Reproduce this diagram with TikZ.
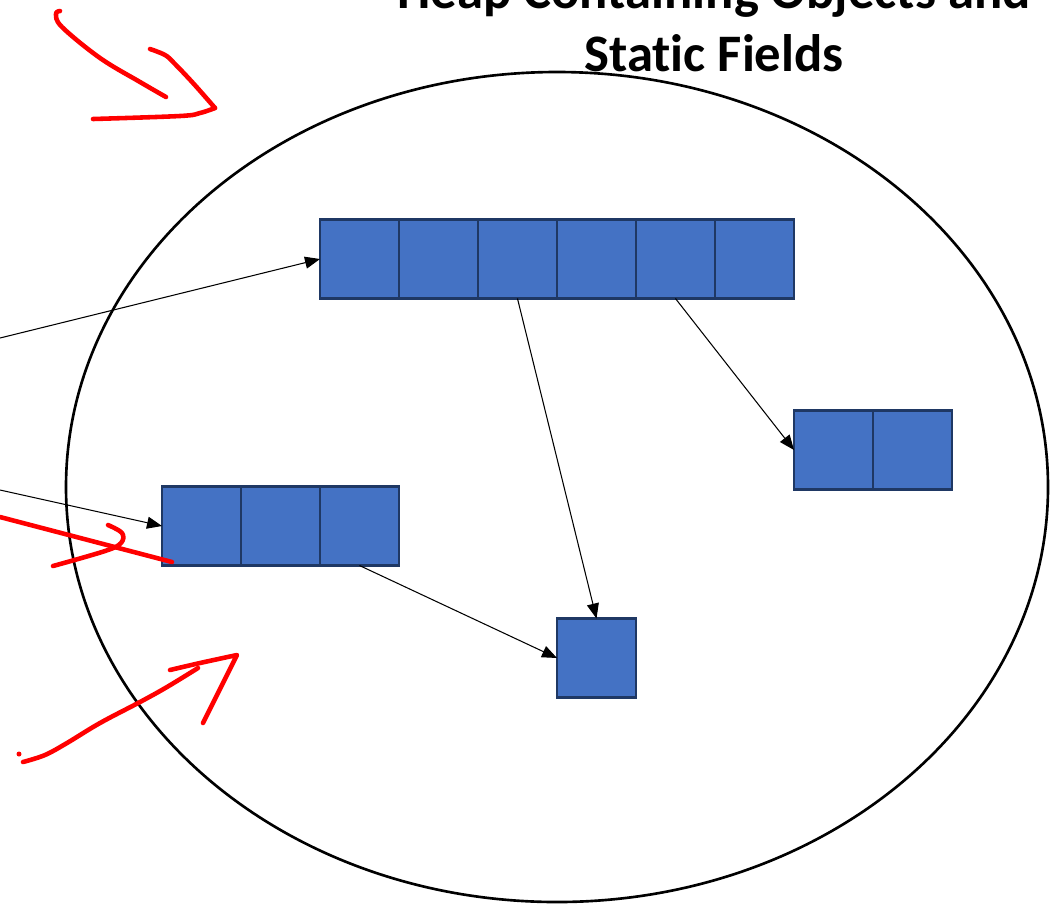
\documentclass[tikz,border=0pt]{standalone}
\usepackage{fontspec}
\setmainfont[Ligatures=NoCommon]{Carlito}
\usepackage{xcolor}
\usepackage{tikz}
\usetikzlibrary{arrows.meta,positioning}
\definecolor{heapfill}{HTML}{4472C4}
\definecolor{heapedge}{HTML}{1F3864}
\definecolor{inkred}{HTML}{FF0000}
\tikzset{
  cell/.style={draw=heapedge,fill=heapfill,line width=1.5pt,minimum size=1.58cm,inner sep=0pt,outer sep=0pt},
  ptr/.style={-{Triangle[length=3mm,width=2.4mm]},line width=0.6pt},
  heap/.style={line width=1.5pt},
  ink/.style={draw=inkred,line width=2.6pt,line cap=round,line join=round},
}

\begin{document}
\begin{tikzpicture}[x=0.02cm,y=-0.02cm]
  \useasboundingbox[fill=white] (0,0) rectangle (1050,907);
  \draw[heap] (557,487) ellipse [x radius=491,y radius=415];
  \node[font=\bfseries\fontsize{30}{36}\selectfont,align=center,anchor=south,inner sep=0pt] (title) at (714,72) {Heap Containing Objects and\\Static Fields};
  % objects in the heap
  \node[cell] (big1) at (359.5,259) {};
  \foreach \i [remember=\i as \j (initially 1)] in {2,...,6}
    \node[cell,right=0pt of big\j] (big\i) {};
  \node[cell] (pair1) at (833.5,450) {};
  \node[cell,right=0pt of pair1] (pair2) {};
  \node[cell] (tri1) at (201.5,526) {};
  \foreach \i [remember=\i as \j (initially 1)] in {2,3}
    \node[cell,right=0pt of tri\j] (tri\i) {};
  \node[cell] (single) at (596.5,658) {};
  % references
  \coordinate (rootA) at (0,338);
  \coordinate (rootB) at (0,490);
  \draw[ptr] (rootA) -- (big1.west);
  \draw[ptr] (rootB) -- (tri1.west);
  \draw[ptr] (big3.south) -- (single.north);
  \draw[ptr] (big5.south) -- (pair1.west);
  \draw[ptr] (tri3.south) -- (single.west);
  % pen marks
  \draw[ink] plot[smooth,tension=0.6] coordinates {(60,11) (56,14) (62,27) (100,58) (140,82) (166,97)};
  \draw[ink] plot[smooth,tension=0.6] coordinates {(150,49) (165,55) (174,63) (193,83) (215,108)};
  \draw[ink] plot[smooth,tension=0.6] coordinates {(215,108) (200,113) (180,116) (93,119)};
  \draw[ink] (0,517) -- (172,562);
  \draw[ink] plot[smooth,tension=0.6] coordinates {(108,525) (122,533) (121,543) (105,551) (53,566)};
  \fill[inkred] (19,754) circle [radius=2.5];
  \draw[ink] plot[smooth,tension=0.6] coordinates {(23,762) (45,755) (67,743) (100,723) (140,702) (167,687) (198,668)};
  \draw[ink] plot[smooth,tension=0.6] coordinates {(170,670) (200,663) (237,655)} -- (203,723);
\end{tikzpicture}
\end{document}
